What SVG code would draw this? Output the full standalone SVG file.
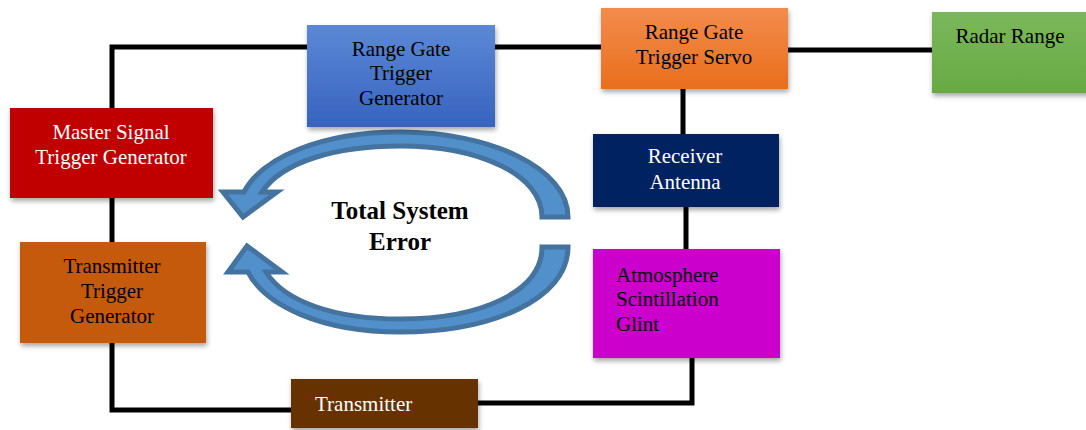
<svg xmlns="http://www.w3.org/2000/svg" width="1086" height="430" viewBox="0 0 1086 430">
<style>
text{font-family:"Liberation Serif","Times New Roman",serif;font-size:21px}
.c{text-anchor:middle}
.w{fill:#ffffff}
.k{fill:#000000}
.box{filter:url(#sh)}
.conn{fill:none;stroke:#000;stroke-width:5;stroke-linejoin:miter}
.arr{fill:#5290cb;stroke:#44739f;stroke-width:5;stroke-linejoin:miter}
.big{font-size:25px;font-weight:bold}
</style>
<defs>
<filter id="sh" x="-10%" y="-10%" width="125%" height="130%">
<feDropShadow dx="1" dy="3" stdDeviation="2.5" flood-color="#000" flood-opacity="0.35"/>
</filter>
<linearGradient id="gBlue" x1="0" y1="0" x2="0" y2="1"><stop offset="0" stop-color="#5b88d6"/><stop offset="1" stop-color="#3763be"/></linearGradient>
<linearGradient id="gOrange" x1="0" y1="0" x2="0" y2="1"><stop offset="0" stop-color="#f38c4c"/><stop offset="1" stop-color="#e96e1c"/></linearGradient>
<linearGradient id="gGreen" x1="0" y1="0" x2="0" y2="1"><stop offset="0" stop-color="#7ab75c"/><stop offset="1" stop-color="#68aa42"/></linearGradient>
</defs>
<rect width="1086" height="430" fill="#ffffff"/>
<g id="connectors">
<polyline class="conn" points="307,47 112,47 112,108"/>
<line class="conn" x1="495" y1="47" x2="601" y2="47"/>
<line class="conn" x1="787" y1="50" x2="932" y2="50"/>
<line class="conn" x1="683" y1="89" x2="683" y2="134"/>
<line class="conn" x1="686" y1="207" x2="686" y2="249"/>
<line class="conn" x1="112" y1="198" x2="112" y2="242"/>
<polyline class="conn" points="112,343 112,410 291,410"/>
<polyline class="conn" points="478,403 692,403 692,350"/>
</g>
<g id="cycle">
<path class="arr" d="M568,217 C568,168 490,132 400,132 C320,132 262,158 244,192 L223,192 L243,217 L277,192 L262,192 C282,162 335,146 400,146 C480,146 542,175 542,217 Z"/>
<path class="arr" d="M568,247 C568,300 490,332 400,332 C320,332 265,305 248,272 L228,272 L247,246 L282,272 L266,272 C285,302 335,319 400,319 C480,319 542,292 542,247 Z"/>
<text class="c big" x="400" y="219">Total System</text>
<text class="c big" x="400" y="250">Error</text>
</g>
<g id="range-gate-trigger-generator">
<rect class="box" x="307" y="25" width="188" height="102" fill="url(#gBlue)"/>
<text class="c k" x="401" y="56">Range Gate</text>
<text class="c k" x="401" y="80">Trigger</text>
<text class="c k" x="401" y="105">Generator</text>
</g>
<g id="range-gate-trigger-servo">
<rect class="box" x="601" y="8" width="187" height="81" fill="url(#gOrange)"/>
<text class="c k" x="694" y="39">Range Gate</text>
<text class="c k" x="694" y="64">Trigger Servo</text>
</g>
<g id="radar-range">
<rect class="box" x="932" y="12" width="160" height="81" fill="url(#gGreen)"/>
<text class="c k" x="1010" y="43">Radar Range</text>
</g>
<g id="master-signal-trigger-generator">
<rect class="box" x="10" y="108" width="203" height="90" fill="#c00000"/>
<text class="c w" x="111" y="139">Master Signal</text>
<text class="c w" x="111" y="164">Trigger Generator</text>
</g>
<g id="receiver-antenna">
<rect class="box" x="593" y="134" width="186" height="73" fill="#002060"/>
<text class="c w" x="685" y="163">Receiver</text>
<text class="c w" x="685" y="189">Antenna</text>
</g>
<g id="transmitter-trigger-generator">
<rect class="box" x="20" y="242" width="186" height="101" fill="#c55a11"/>
<text class="c k" x="112" y="273">Transmitter</text>
<text class="c k" x="112" y="298">Trigger</text>
<text class="c k" x="112" y="323">Generator</text>
</g>
<g id="atmosphere">
<rect class="box" x="593" y="249" width="187" height="109" fill="#cc00cc"/>
<text class="k" x="616" y="282">Atmosphere</text>
<text class="k" x="616" y="306">Scintillation</text>
<text class="k" x="616" y="331">Glint</text>
</g>
<g id="transmitter">
<rect class="box" x="291" y="379" width="187" height="49" fill="#663300"/>
<text class="w" x="315" y="411">Transmitter</text>
</g>
</svg>
